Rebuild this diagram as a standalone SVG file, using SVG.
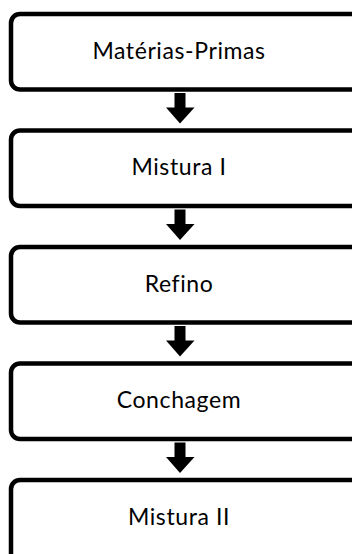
<svg xmlns="http://www.w3.org/2000/svg" width="352" height="554" viewBox="0 0 352 554">
<style>
.box{fill:#fff;stroke:#000;stroke-width:4.5}
.lbl{font-family:Lato,"Open Sans",sans-serif;font-size:23px;letter-spacing:0.6px;font-variant-ligatures:none;fill:#000;text-anchor:middle}
.arr{fill:#000}
</style>
<rect width="352" height="554" fill="#fff"/>
<g id="connectors">
<path class="arr" d="M174.5,93 h11 v14.5 h9 L180,123.5 L166,107.5 h8.5 Z"/>
<path class="arr" d="M174.5,209.5 h11 v14.5 h9 L180,240 L166,224 h8.5 Z"/>
<path class="arr" d="M174.5,326 h11 v14.5 h9 L180,356.5 L166,340.5 h8.5 Z"/>
<path class="arr" d="M174.5,442.5 h11 v14.5 h9 L180,473 L166,457 h8.5 Z"/>
</g>
<g id="n1"><rect class="box" x="11" y="14" width="360" height="75.5" rx="9"/><text class="lbl" x="179" y="58.5">Matérias-Primas</text></g>
<g id="n2"><rect class="box" x="11" y="130.5" width="360" height="75.5" rx="9"/><text class="lbl" x="179" y="175">Mistura I</text></g>
<g id="n3"><rect class="box" x="11" y="247" width="360" height="75.5" rx="9"/><text class="lbl" x="179" y="291.5">Refino</text></g>
<g id="n4"><rect class="box" x="11" y="363.5" width="360" height="75.5" rx="9"/><text class="lbl" x="179" y="408">Conchagem</text></g>
<g id="n5"><rect class="box" x="11" y="480" width="360" height="90" rx="9"/><text class="lbl" x="179" y="524.5">Mistura II</text></g>
</svg>
